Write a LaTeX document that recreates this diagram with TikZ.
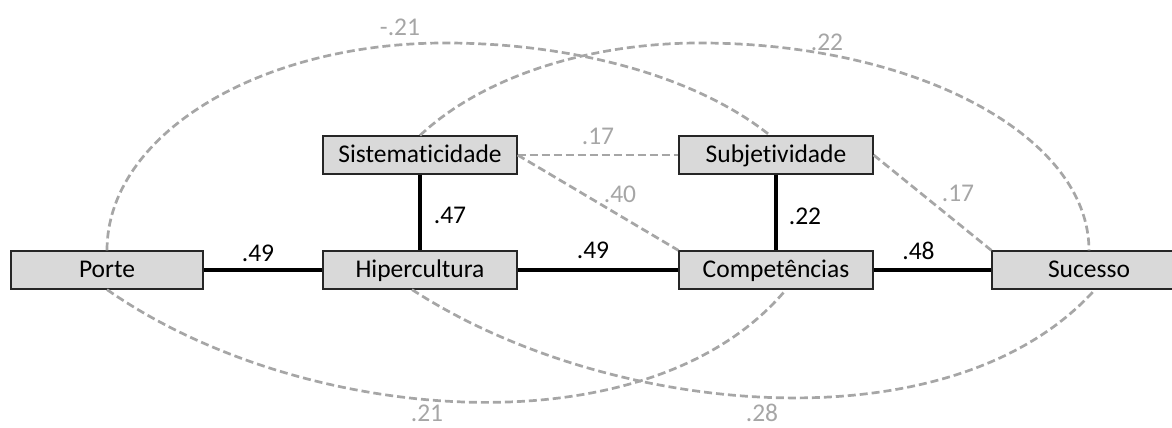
\documentclass[tikz,border=0pt]{standalone}
\usepackage{fontspec}
\setmainfont{Carlito}[Ligatures=NoCommon]
\definecolor{boxgray}{HTML}{D9D9D9}
\definecolor{linegray}{HTML}{A6A6A6}
\definecolor{labelgray}{HTML}{A6A6A6}
\begin{document}
\begin{tikzpicture}[x=1pt,y=1pt,
  box/.style={draw=black!85, line width=1.2pt, fill=boxgray,
    minimum width=194pt, minimum height=38pt, inner sep=0pt,
    text height=18pt, text depth=2pt, font=\fontsize{25.5}{30}\selectfont},
  pathline/.style={line width=3.5pt, draw=black},
  corr/.style={draw=linegray, line width=2.7pt, dash pattern=on 8pt off 4pt},
  coef/.style={font=\fontsize{25.5}{30}\selectfont, inner sep=0pt},
  gcoef/.style={coef, text=labelgray}]

\useasboundingbox (0,0) rectangle (1172,428);

% variables
\node[box, minimum width=192pt] (porte) at (107,158) {Porte};
\node[box] (hiper) at (420,158) {Hipercultura};
\node[box] (sist)  at (420,273) {Sistematicidade};
\node[box] (subj)  at (776,273) {Subjetividade};
\node[box] (comp)  at (776,158) {Competências};
\node[box] (suc)   at (1089,158) {Sucesso};

% summits of the upper arcs
\coordinate (atop) at (445,385);
\coordinate (btop) at (700,385);

% direct paths
\draw[pathline] (porte.east) -- (hiper.west);
\draw[pathline] (hiper.east) -- (comp.west);
\draw[pathline] (comp.east) -- (suc.west);
\draw[pathline] (sist.south) -- (hiper.north);
\draw[pathline] (subj.south) -- (comp.north);

% correlations
\draw[corr] (sist.east) -- (subj.west);
\draw[corr] (sist.east) -- (comp.north west);
\draw[corr] (subj.east) -- (suc.north west);
\draw[corr] (porte.north) .. controls +(0,115) and +(-187,0) .. (atop)
  .. controls +(131,0) and +(-72,58) .. ([xshift=-6pt]subj.north);
\draw[corr] (sist.north) .. controls +(62,58) and +(-113,0) .. (btop)
  .. controls +(215,0) and +(0,115) .. (suc.north);
\draw[corr] (porte.south) .. controls +(193,-135) and +(-138,-165) .. ([xshift=10pt]comp.south);
\draw[corr] ([xshift=-8pt]hiper.south) .. controls +(197,-128) and +(-144,-160) .. ([xshift=6pt]suc.south);

% coefficients
\node[coef] (c1) at (258,175) {.49};
\node[coef] (c2) at (450,212.5) {.47};
\node[coef] (c3) at (593,177.5) {.49};
\node[coef] (c4) at (805,212) {.22};
\node[coef] (c5) at (918.5,177.5) {.48};
\node[gcoef] (g1) at (400,401) {-.21};
\node[gcoef] (g2) at (827,386) {.22};
\node[gcoef] (g3) at (598,292) {.17};
\node[gcoef] (g4) at (620,234) {.40};
\node[gcoef] (g5) at (958,235) {.17};
\node[gcoef] (g6) at (427,15) {.21};
\node[gcoef] (g7) at (762,15) {.28};
\end{tikzpicture}
\end{document}
